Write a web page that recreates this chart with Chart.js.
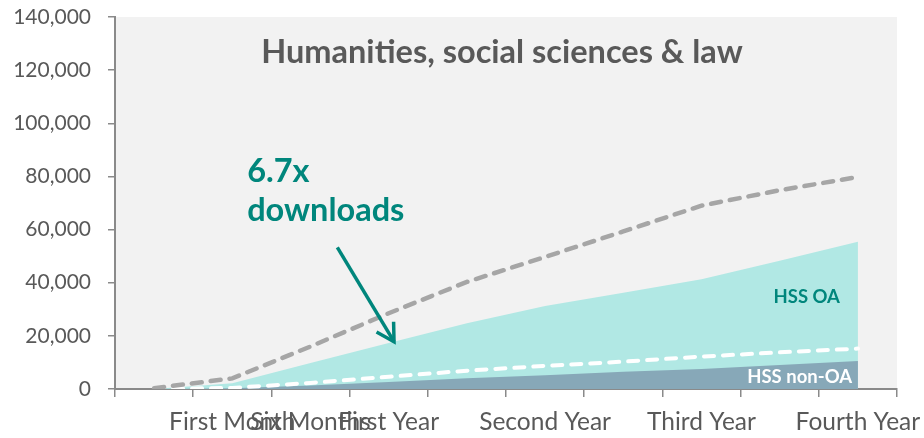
<!DOCTYPE html>
<html>
<head>
<meta charset="utf-8">
<script src="https://cdn.jsdelivr.net/npm/chart.js@4.4.1/dist/chart.umd.min.js"></script>
<style>
  html, body { margin: 0; padding: 0; background: #fff; }
  #wrap { width: 924px; height: 438px; }
</style>
</head>
<body>
<div id="wrap"><canvas id="downloadsChart" width="924" height="438"></canvas></div>
<script>
// time points after publication; the unlabelled ones sit between the named periods
const periods = ['', 'First Month', 'Six Months', 'First Year', '', 'Second Year', '', 'Third Year', '', 'Fourth Year'];

// cumulative downloads per book
const hssOa = [0, 2200, 9800, 17300, 24700, 31200, 36200, 41300, 48300, 55400];
const hssNonOa = [0, 300, 1300, 2600, 4000, 5200, 6500, 7500, 9000, 10500];
const allOa = [300, 4000, 16000, 28500, 40300, 49700, 59300, 69000, 74800, 79800];
const allNonOa = [0, 400, 2300, 4600, 6900, 8700, 10300, 12200, 13800, 15200];

const yMin = 0;
const yMax = 140000;
const yStep = 20000;

const titleText = 'Humanities, social sciences & law';
const calloutLines = ['6.7x', 'downloads'];

const TEAL = '#00867c';
const AXIS = '#8a8a8a';
const TEXT = '#595959';

const panel = {
  id: 'panel',
  beforeDraw(chart) {
    const { ctx, chartArea: a } = chart;
    ctx.save();
    ctx.fillStyle = '#ffffff';
    ctx.fillRect(0, 0, chart.width, chart.height);
    ctx.fillStyle = '#f2f2f2';
    ctx.fillRect(a.left, a.top, a.right - a.left, a.bottom - a.top);
    ctx.restore();
  }
};

const notes = {
  id: 'notes',
  afterDatasetsDraw(chart) {
    const { ctx, chartArea: a, scales: { x, y } } = chart;
    ctx.save();

    // heading inside the plot
    ctx.fillStyle = TEXT;
    ctx.font = 'bold 32.5px Lato';
    ctx.textAlign = 'center';
    ctx.textBaseline = 'alphabetic';
    ctx.fillText(titleText, (a.left + a.right) / 2 - 4, a.top + 46);

    // callout text
    ctx.fillStyle = TEAL;
    ctx.font = 'bold 32.5px Lato';
    ctx.textAlign = 'left';
    ctx.fillText(calloutLines[0], x.getPixelForValue(1.19), y.getPixelForValue(78000));
    ctx.fillText(calloutLines[1], x.getPixelForValue(1.19), y.getPixelForValue(63200));

    // arrow pointing at the OA area
    const sx = x.getPixelForValue(2.343), sy = y.getPixelForValue(53300);
    const tx = x.getPixelForValue(3.068), ty = y.getPixelForValue(17800);
    const ang = Math.atan2(ty - sy, tx - sx);
    const head = 20;
    ctx.strokeStyle = TEAL;
    ctx.lineWidth = 3.5;
    ctx.beginPath();
    ctx.moveTo(sx, sy);
    ctx.lineTo(tx, ty);
    ctx.stroke();
    ctx.lineJoin = 'miter';
    ctx.beginPath();
    ctx.moveTo(tx - head * Math.cos(ang - 0.52), ty - head * Math.sin(ang - 0.52));
    ctx.lineTo(tx, ty);
    ctx.lineTo(tx - head * Math.cos(ang + 0.52), ty - head * Math.sin(ang + 0.52));
    ctx.stroke();

    // series labels
    ctx.font = 'bold 18.5px Lato';
    ctx.textAlign = 'right';
    ctx.fillStyle = TEAL;
    ctx.fillText('HSS OA', x.getPixelForValue(8.77), y.getPixelForValue(32500));
    ctx.fillStyle = '#ffffff';
    ctx.fillText('HSS non-OA', x.getPixelForValue(8.925), y.getPixelForValue(2100));

    ctx.restore();
  }
};

new Chart(document.getElementById('downloadsChart'), {
  type: 'line',
  data: {
    labels: periods,
    datasets: [
      {
        label: 'All OA',
        data: allOa,
        borderColor: '#a6a6a6',
        borderWidth: 4.5,
        borderDash: [10, 9],
        borderCapStyle: 'round',
        pointRadius: 0,
        fill: false,
        order: 0
      },
      {
        label: 'All non-OA',
        data: allNonOa,
        borderColor: '#ffffff',
        borderWidth: 4,
        borderDash: [10, 9],
        borderCapStyle: 'round',
        pointRadius: 0,
        fill: false,
        order: 1
      },
      {
        label: 'HSS non-OA',
        data: hssNonOa,
        borderWidth: 0,
        backgroundColor: '#87a8b8',
        pointRadius: 0,
        fill: 'origin',
        order: 2
      },
      {
        label: 'HSS OA',
        data: hssOa,
        borderWidth: 0,
        backgroundColor: '#b1e8e4',
        pointRadius: 0,
        fill: 'origin',
        order: 3
      }
    ]
  },
  options: {
    responsive: false,
    animation: false,
    layout: { padding: { top: 17, right: 27, left: 0, bottom: 0 } },
    plugins: {
      legend: { display: false },
      tooltip: { enabled: false }
    },
    scales: {
      x: {
        offset: true,
        grid: {
          offset: true,
          drawOnChartArea: false,
          drawTicks: true,
          tickLength: 8,
          color: AXIS,
          lineWidth: 1.5
        },
        border: { color: AXIS, width: 2 },
        ticks: {
          autoSkip: false,
          maxRotation: 0,
          minRotation: 0,
          padding: 10,
          color: TEXT,
          font: { family: 'Lato', size: 24.5 }
        },
        afterFit(scale) {
          scale.height = 49;
          scale.paddingLeft = 0;
          scale.paddingRight = 0;
        }
      },
      y: {
        min: yMin,
        max: yMax,
        grid: {
          drawOnChartArea: false,
          drawTicks: true,
          tickLength: 7,
          color: AXIS,
          lineWidth: 1.5
        },
        border: { color: AXIS, width: 2 },
        ticks: {
          stepSize: yStep,
          padding: 17,
          color: TEXT,
          font: { family: 'Lato', size: 21 },
          callback: v => v.toLocaleString('en-US')
        },
        afterFit(scale) {
          scale.width = 115;
          scale.paddingTop = 0;
          scale.paddingBottom = 0;
        }
      }
    }
  },
  plugins: [panel, notes]
});
</script>
</body>
</html>
